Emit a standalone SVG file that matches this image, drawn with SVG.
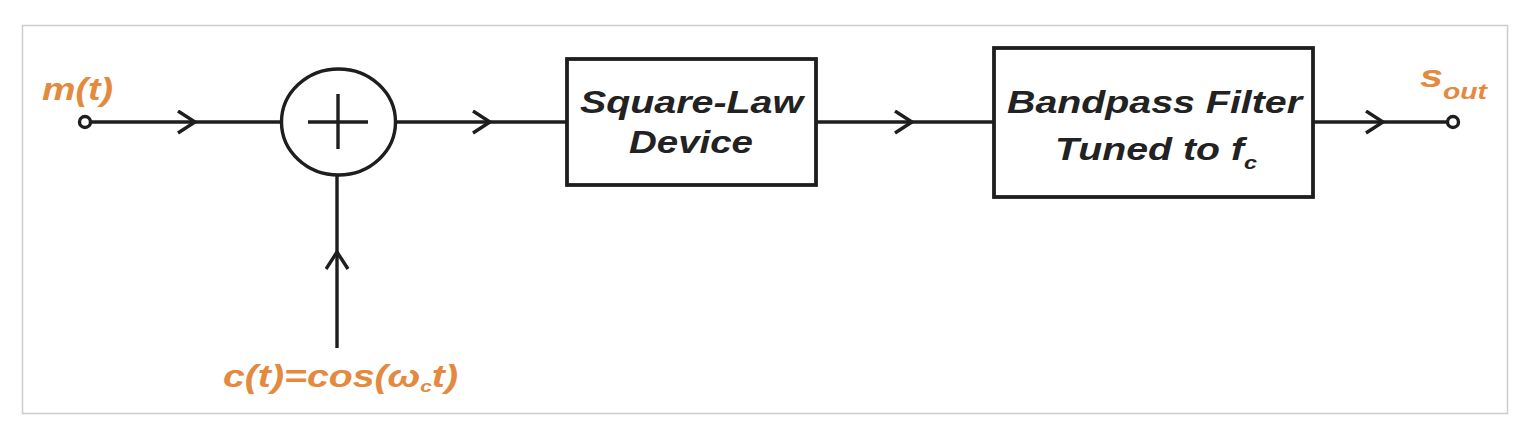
<svg xmlns="http://www.w3.org/2000/svg" width="1529" height="424" viewBox="0 0 1529 424">
<style>
.ln{fill:none;stroke:#1e1e1e;stroke-width:3.4}
.box{fill:#fff;stroke:#1e1e1e;stroke-width:3.8}
.term{fill:#fff;stroke:#1e1e1e;stroke-width:3.4}
.bt{font-family:"Liberation Sans",Arial,sans-serif;font-weight:bold;font-style:italic;font-size:32px;fill:#222}
.sig{font-family:"Liberation Sans",Arial,sans-serif;font-weight:bold;font-style:italic;font-size:32px;fill:#E38A3E}
</style>
<defs>
<marker id="chev" markerUnits="userSpaceOnUse" markerWidth="24" markerHeight="28" refX="18" refY="12" orient="auto" viewBox="0 0 24 28">
<path d="M1,1 L18,12 L1,23" fill="none" stroke="#1e1e1e" stroke-width="3.4" stroke-linejoin="miter"/>
</marker>
</defs>
<rect x="0" y="0" width="1529" height="424" fill="#fff"/>
<rect x="22.5" y="25.5" width="1485" height="388" fill="#fff" stroke="#cccccc" stroke-width="1.5"/>
<g id="connectors">
<path class="ln" d="M91,122 L195,122 L281,122" marker-mid="url(#chev)"/>
<path class="ln" d="M396,122 L490,122 L567,122" marker-mid="url(#chev)"/>
<path class="ln" d="M816,122 L912,122 L994,122" marker-mid="url(#chev)"/>
<path class="ln" d="M1313,122 L1383,122 L1447,122" marker-mid="url(#chev)"/>
<path class="ln" d="M337,348 L337,252 L337,175" marker-mid="url(#chev)"/>
</g>
<g id="input">
<circle class="term" cx="85" cy="122" r="5.5"/>
<text class="sig" x="42" y="100" textLength="71" lengthAdjust="spacingAndGlyphs">m(t)</text>
</g>
<g id="adder">
<ellipse cx="338.5" cy="122" rx="57" ry="53" fill="#fff" stroke="#1e1e1e" stroke-width="3.4"/>
<path class="ln" d="M308,122 L368,122 M338,94 L338,149"/>
</g>
<g id="carrier">
<text class="sig" x="223" y="387" textLength="235" lengthAdjust="spacingAndGlyphs">c(t)=cos(ω<tspan font-size="17" dy="5">c</tspan><tspan dy="-5">t)</tspan></text>
</g>
<g id="square-law">
<rect class="box" x="567" y="59" width="249" height="126"/>
<text class="bt" x="580" y="113" textLength="223" lengthAdjust="spacingAndGlyphs">Square-Law</text>
<text class="bt" x="629" y="153" textLength="124" lengthAdjust="spacingAndGlyphs">Device</text>
</g>
<g id="bandpass">
<rect class="box" x="994" y="48" width="319" height="149"/>
<text class="bt" x="1007" y="113" textLength="295" lengthAdjust="spacingAndGlyphs">Bandpass Filter</text>
<text class="bt" x="1055" y="160" textLength="202" lengthAdjust="spacingAndGlyphs">Tuned to f<tspan font-size="19" dy="9">c</tspan></text>
</g>
<g id="output">
<circle class="term" cx="1453" cy="122" r="5.5"/>
<text class="sig" x="1420" y="87" textLength="67" lengthAdjust="spacingAndGlyphs">s<tspan font-size="22" dy="12">out</tspan></text>
</g>
</svg>
